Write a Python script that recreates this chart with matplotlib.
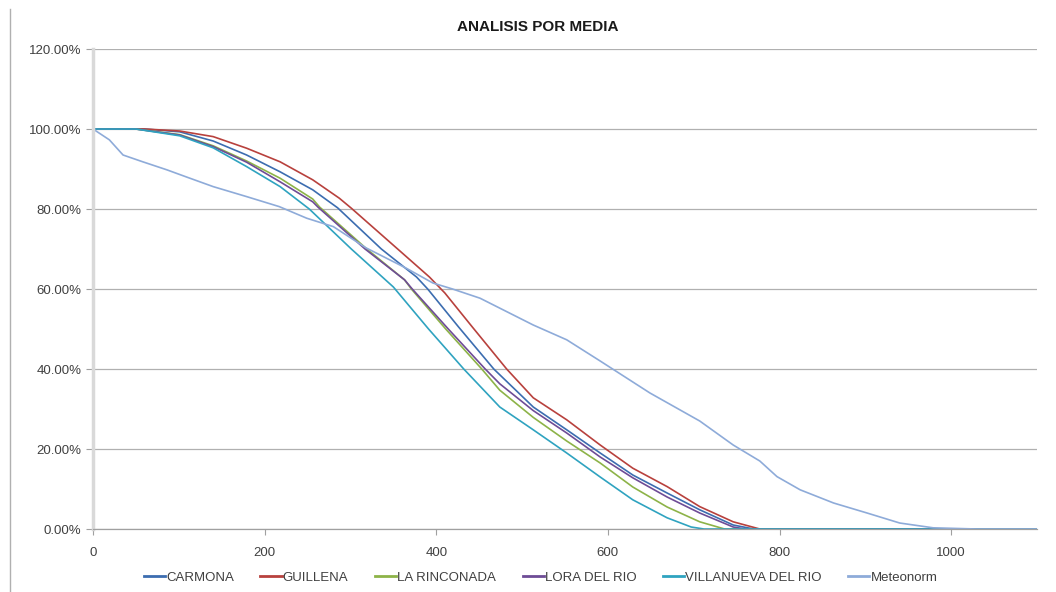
import matplotlib.pyplot as plt
from matplotlib.lines import Line2D
from matplotlib.ticker import FuncFormatter, MultipleLocator

# values (x, percent)
carmona_x = [0, 60, 101, 140, 179, 218, 256, 285, 336, 377, 390, 426, 467, 513, 552, 591, 629, 669, 707, 746, 770, 1100]
carmona_y = [100, 100, 99.3, 97, 93.5, 89.3, 84.8, 80.3, 70, 63, 60, 50.5, 40, 30.5, 24.8, 19, 13.5, 9, 4.8, 1, 0, 0]

guillena_x = [0, 60, 101, 140, 179, 218, 256, 287, 301, 355, 392, 410, 442, 482, 513, 552, 591, 629, 669, 707, 746, 777, 1100]
guillena_y = [100, 100, 99.5, 98.1, 95.2, 91.8, 87.3, 82.7, 80.2, 70, 63, 59, 50.5, 40, 32.8, 27.3, 21, 15.2, 10.6, 5.6, 1.8, 0, 0]

rinconada_x = [0, 50, 101, 140, 179, 218, 256, 264, 319, 363, 371, 411, 453, 474, 513, 552, 591, 629, 669, 707, 736, 1100]
rinconada_y = [100, 100, 98.6, 95.8, 92, 87.7, 82.5, 80.5, 70, 62.3, 60, 50, 40, 34.7, 27.9, 22, 16.5, 10.5, 5.5, 1.8, 0, 0]

lora_x = [0, 50, 101, 140, 179, 218, 256, 262, 317, 363, 372, 414, 457, 474, 513, 552, 591, 629, 669, 707, 746, 760, 1100]
lora_y = [100, 100, 98.5, 95.6, 91.7, 86.8, 81.8, 80.5, 70, 62.3, 60, 50, 40, 36.3, 29.6, 24, 18, 12.8, 8, 4, 0.5, 0, 0]

villanueva_x = [0, 50, 101, 140, 179, 218, 252, 301, 350, 391, 432, 474, 513, 552, 591, 629, 669, 697, 712, 1100]
villanueva_y = [100, 100, 98.3, 95.3, 90.6, 85.6, 80, 70, 60.5, 50, 40, 30.5, 24.8, 19, 13, 7.3, 2.8, 0.5, 0, 0]

meteonorm_x = [0, 19, 35, 58, 86, 109, 140, 179, 217, 249, 280, 318, 365, 396, 419, 451, 513, 552, 591, 649, 707, 746, 777, 797, 824, 863, 902, 940, 979, 1030, 1100]
meteonorm_y = [100, 97.3, 93.5, 91.8, 89.8, 88, 85.6, 83.1, 80.6, 77.7, 75.6, 70.3, 65.2, 61.5, 60, 57.7, 51, 47.3, 42, 34, 27, 21, 17, 13.1, 9.8, 6.5, 4, 1.5, 0.3, 0, 0]

labels = ["CARMONA", "GUILLENA", "LA RINCONADA", "LORA DEL RIO", "VILLANUEVA DEL RIO", "Meteonorm"]
colors = ["#3C6DB0", "#B8413D", "#8DB348", "#6E4C96", "#2FA3C0", "#8EABD9"]

series = [(carmona_x, carmona_y), (guillena_x, guillena_y), (rinconada_x, rinconada_y),
          (lora_x, lora_y), (villanueva_x, villanueva_y), (meteonorm_x, meteonorm_y)]

plt.rcParams['font.family'] = ['Liberation Sans', 'DejaVu Sans']

fig = plt.figure(figsize=(10.56, 5.92), dpi=100)
ax = fig.add_axes([0.0881, 0.1064, 0.8939, 0.8108])

for (xs, ys), lab, col in zip(series, labels, colors):
    ax.plot(xs, [v / 100 for v in ys], color=col, lw=1.2, label=lab)

ax.set_xlim(0, 1100)
ax.set_ylim(0, 1.2)
ax.xaxis.set_major_locator(MultipleLocator(200))
ax.yaxis.set_major_locator(MultipleLocator(0.2))
ax.yaxis.set_major_formatter(FuncFormatter(lambda v, p: "%.2f%%" % (v * 100)))
ax.grid(axis='y', color='#B0B0B0', lw=0.9)
ax.set_axisbelow(True)

for s in ['top', 'right']:
    ax.spines[s].set_visible(False)
ax.spines['left'].set_color('#D9D9D9')
ax.spines['left'].set_linewidth(2.5)
ax.spines['bottom'].set_color('#A0A0A0')
ax.spines['bottom'].set_linewidth(0.9)
ax.tick_params(axis='x', colors='#A0A0A0', length=4, labelcolor='#404040', labelsize=9.5, pad=9)
ax.tick_params(axis='y', colors='#A0A0A0', length=5, labelcolor='#404040', labelsize=9.5)

fig.text(0.509, 0.955, "ANALISIS POR MEDIA", ha='center', va='center',
         fontsize=11, fontweight='bold', color='#1a1a1a')

# chart area border on the left
fig.add_artist(Line2D([0.0095, 0.0095], [0.0, 0.985], color='#B0B0B0', lw=1))

handles = [Line2D([], [], color=c, lw=2) for c in colors]
fig.legend(handles, labels, loc='center', bbox_to_anchor=(0.512, 0.024), ncol=6,
           frameon=False, fontsize=9.5, handlelength=1.6, handletextpad=0.1,
           columnspacing=2.0, labelcolor='#404040')

fig.savefig('out.png', dpi=100)
